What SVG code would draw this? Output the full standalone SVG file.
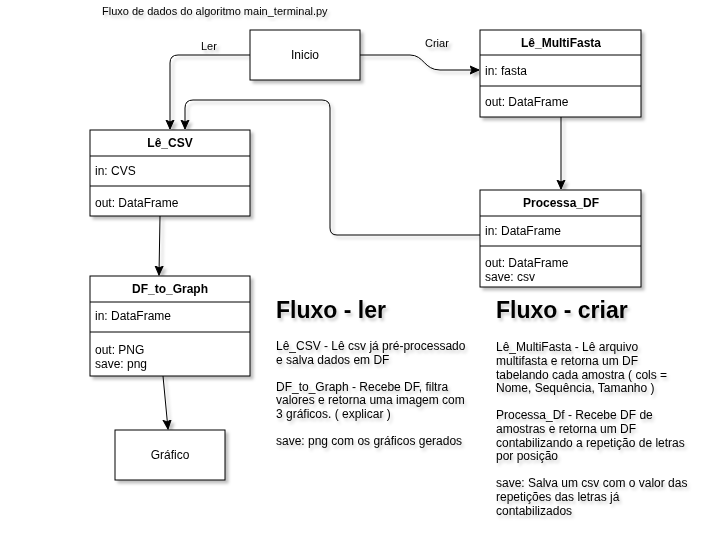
<svg xmlns="http://www.w3.org/2000/svg" width="702" height="552" viewBox="0 0 702 552">
<style>
text{font-family:"Liberation Sans",Arial,Helvetica,sans-serif;font-size:12px;fill:#000}
.box{fill:#fff;stroke:#000;stroke-width:1}
.ln{fill:none;stroke:#000;stroke-width:1}
.hd{font-weight:bold;text-anchor:middle;dominant-baseline:central}
.c{text-anchor:middle;dominant-baseline:central}
.f{dominant-baseline:central}
.big{font-size:23px;font-weight:bold}
.sh{filter:url(#sh)}
.tsh{filter:url(#tsh)}
.lbl{font-size:11px}
</style>
<defs>
<filter id="sh" x="-10%" y="-10%" width="130%" height="130%">
<feDropShadow dx="3" dy="3" stdDeviation="1.5" flood-color="#000" flood-opacity="0.25"/>
</filter>
<filter id="tsh" x="-10%" y="-20%" width="130%" height="160%">
<feDropShadow dx="2" dy="3" stdDeviation="1.5" flood-color="#000" flood-opacity="0.2"/>
</filter>
<marker id="arr" markerWidth="10" markerHeight="10" refX="9" refY="5" orient="auto" markerUnits="userSpaceOnUse">
<path d="M0,1 L9,5 L0,9 L2,5 z" fill="#000" stroke="#000" stroke-width="1"/>
</marker>
</defs>
<rect width="702" height="552" fill="#fff"/>

<text x="102" y="15" class="lbl tsh">Fluxo de dados do algoritmo main_terminal.py</text>

<g id="connectors" class="sh">
<path class="ln" d="M250,55 L178,55 Q170,55 170,63 L170,129" marker-end="url(#arr)"/>
<path class="ln" d="M480,235 L337,235 Q330,235 330,228 L330,108 Q330,100 322,100 L193,100 Q185,100 185,108 L185,129" marker-end="url(#arr)"/>
<path class="ln" d="M360,55 L410,55 C424,55 424,70 440,70 L479,70" marker-end="url(#arr)"/>
<path class="ln" d="M561,117 L561,189" marker-end="url(#arr)"/>
<path class="ln" d="M160,216 L159,275" marker-end="url(#arr)"/>
<path class="ln" d="M163,376 L168,429" marker-end="url(#arr)"/>
<text x="201" y="46" class="lbl f">Ler</text>
<text x="425" y="43" class="lbl f">Criar</text>
</g>

<g id="inicio" class="sh">
<rect class="box" x="250" y="30" width="110" height="50"/>
<text x="305" y="55" class="c">Inicio</text>
</g>

<g id="le_multifasta" class="sh">
<rect class="box" x="480" y="30" width="161" height="87"/>
<line class="ln" x1="480" y1="55" x2="641" y2="55"/>
<line class="ln" x1="480" y1="86" x2="641" y2="86"/>
<text x="561" y="43" class="hd">Lê_MultiFasta</text>
<text x="485" y="70.5" class="f">in: fasta</text>
<text x="485" y="102" class="f">out: DataFrame</text>
</g>

<g id="le_csv" class="sh">
<rect class="box" x="90" y="130" width="160" height="86"/>
<line class="ln" x1="90" y1="156" x2="250" y2="156"/>
<line class="ln" x1="90" y1="186" x2="250" y2="186"/>
<text x="170" y="143" class="hd">Lê_CSV</text>
<text x="95" y="171" class="f">in: CVS</text>
<text x="95" y="203" class="f">out: DataFrame</text>
</g>

<g id="processa_df" class="sh">
<rect class="box" x="480" y="190" width="161" height="97"/>
<line class="ln" x1="480" y1="216" x2="641" y2="216"/>
<line class="ln" x1="480" y1="246" x2="641" y2="246"/>
<text x="561" y="203" class="hd">Processa_DF</text>
<text x="485" y="230.5" class="f">in: DataFrame</text>
<text x="485" y="263" class="f">out: DataFrame</text>
<text x="485" y="277" class="f">save: csv</text>
</g>

<g id="df_to_graph" class="sh">
<rect class="box" x="90" y="276" width="160" height="100"/>
<line class="ln" x1="90" y1="302" x2="250" y2="302"/>
<line class="ln" x1="90" y1="332" x2="250" y2="332"/>
<text x="170" y="289" class="hd">DF_to_Graph</text>
<text x="95" y="316" class="f">in: DataFrame</text>
<text x="95" y="350" class="f">out: PNG</text>
<text x="95" y="364" class="f">save: png</text>
</g>

<g id="grafico" class="sh">
<rect class="box" x="115" y="430" width="110" height="50"/>
<text x="170" y="455" class="c">Gráfico</text>
</g>

<g id="fluxo_ler" class="tsh">
<text x="276" y="318" class="big">Fluxo - ler</text>
<text x="276" y="350">Lê_CSV - Lê csv já pré-processado</text>
<text x="276" y="363.5">e salva dados em DF</text>
<text x="276" y="390.5">DF_to_Graph - Recebe DF, filtra</text>
<text x="276" y="404">valores e retorna uma imagem com</text>
<text x="276" y="417.5">3 gráficos. ( explicar )</text>
<text x="276" y="444.5">save: png com os gráficos gerados</text>
</g>

<g id="fluxo_criar" class="tsh">
<text x="496" y="318" class="big">Fluxo - criar</text>
<text x="496" y="351">Lê_MultiFasta - Lê arquivo</text>
<text x="496" y="365">multifasta e retorna um DF</text>
<text x="496" y="378.5">tabelando cada amostra ( cols =</text>
<text x="496" y="392">Nome, Sequência, Tamanho )</text>
<text x="496" y="419">Processa_Df - Recebe DF de</text>
<text x="496" y="433">amostras e retorna um DF</text>
<text x="496" y="446.5">contabilizando a repetição de letras</text>
<text x="496" y="460">por posição</text>
<text x="496" y="487">save: Salva um csv com o valor das</text>
<text x="496" y="501">repetições das letras já</text>
<text x="496" y="514.5">contabilizados</text>
</g>
</svg>
